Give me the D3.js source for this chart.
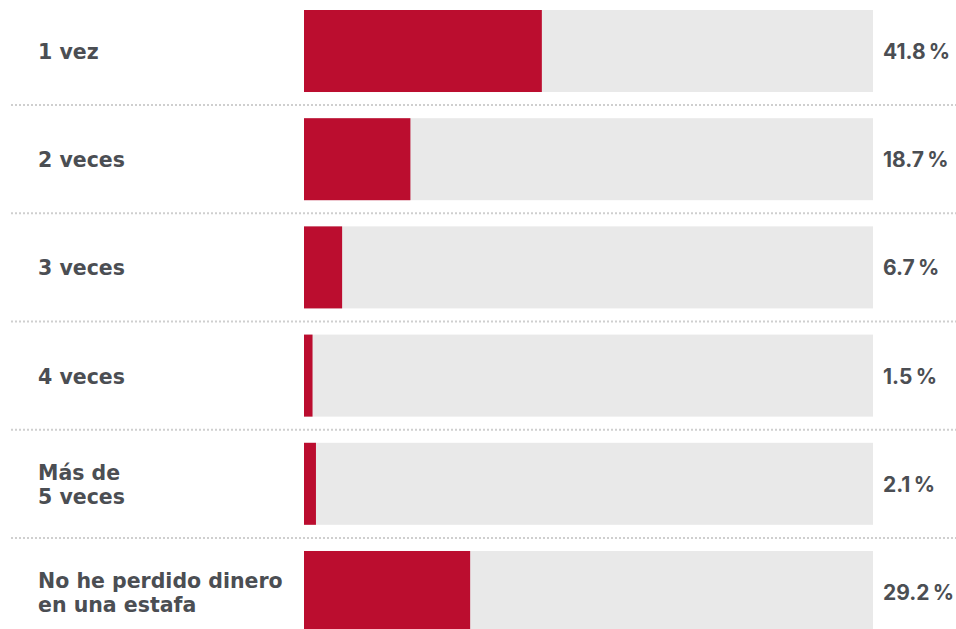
<!DOCTYPE html>
<html lang="es">
<head>
    <meta charset="UTF-8">
    <title>Veces que ha perdido dinero en una estafa</title>
    <script src="https://d3js.org/d3.v7.min.js"></script>
    <style>
        body { margin: 0; background: #fff; }
        .label, .value {
            font-weight: 700;
            fill: #4b4e53;
        }
        .label { font-family: "DejaVu Sans", Inter, Arial, sans-serif; font-size: 20.5px; }
        .value { font-family: Inter, "DejaVu Sans", Arial, sans-serif; font-size: 21px; }
    </style>
</head>
<body>
    <svg width="956" height="629"></svg>
    <script>
        // categorías (con salto de línea) y porcentajes
        const categories = ["1 vez", "2 veces", "3 veces", "4 veces", "Más de\n5 veces", "No he perdido dinero\nen una estafa"];
        const values = [41.8, 18.7, 6.7, 1.5, 2.1, 29.2];
        const valueLabels = ["41.8\u202f%", "18.7\u202f%", "6.7\u202f%", "1.5\u202f%", "2.1\u202f%", "29.2\u202f%"];

        const data = categories.map((c, i) => ({ cat: c, value: values[i], label: valueLabels[i] }));

        const svg = d3.select("svg");

        const x = d3.scaleLinear().domain([0, 100]).range([304, 873]);
        const y = d3.scaleBand()
            .domain(categories)
            .range([10, 633])
            .paddingInner(0.242)
            .paddingOuter(0);

        const gap = y.step() - y.bandwidth();

        // líneas punteadas entre filas
        svg.append("g")
            .selectAll("line")
            .data(categories.slice(1))
            .enter().append("line")
            .attr("x1", 11)
            .attr("x2", 956)
            .attr("y1", d => y(d) - gap / 2)
            .attr("y2", d => y(d) - gap / 2)
            .attr("stroke", "#cfcfcf")
            .attr("stroke-width", 2)
            .attr("stroke-dasharray", "2 2");

        const row = svg.append("g")
            .selectAll("g")
            .data(data)
            .enter().append("g")
            .attr("transform", d => "translate(0," + y(d.cat) + ")");

        // fondo gris
        row.append("rect")
            .attr("x", x(0))
            .attr("width", x(100) - x(0))
            .attr("height", y.bandwidth())
            .attr("fill", "#e9e9e9");

        // barra roja
        row.append("rect")
            .attr("x", x(0))
            .attr("width", d => x(d.value) - x(0))
            .attr("height", y.bandwidth())
            .attr("fill", "#bb0d2f");

        // etiquetas
        row.append("text")
            .attr("class", "label")
            .attr("x", 38)
            .each(function(d) {
                const lines = d.cat.split("\n");
                const mid = y.bandwidth() / 2;
                const start = mid + 8 - (lines.length - 1) * 12;
                lines.forEach((l, i) => {
                    d3.select(this).append("tspan")
                        .attr("x", 38)
                        .attr("y", start + i * 24)
                        .text(l);
                });
            });

        // valores
        row.append("text")
            .attr("class", "value")
            .attr("x", 883)
            .attr("y", y.bandwidth() / 2 + 8)
            .text(d => d.label);
    </script>
</body>
</html>
